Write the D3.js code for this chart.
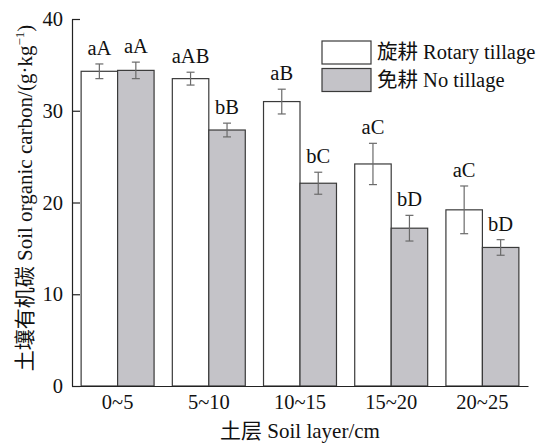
<!DOCTYPE html>
<html>
<head>
<meta charset="utf-8">
<script src="https://cdn.jsdelivr.net/npm/d3@7/dist/d3.min.js"></script>
<style>
  html, body { margin: 0; padding: 0; background: #fff; }
  svg { display: block; }
  text { font-family: "Liberation Serif", "Times New Roman", "Noto Sans CJK SC", serif; fill: #111; }
</style>
</head>
<body>
<svg id="chart" width="549" height="443"></svg>
<script>
// Soil layers (cm) and SOC per tillage treatment (g/kg)
const layers = ["0~5", "5~10", "10~15", "15~20", "20~25"];
const seriesNames = ["旋耕 Rotary tillage", "免耕 No tillage"];
const rotary = [34.3, 33.5, 31.0, 24.2, 19.2];
const rotaryErr = [0.8, 0.7, 1.35, 2.25, 2.6];
const rotaryLabels = ["aA", "aAB", "aB", "aC", "aC"];
const noTill = [34.4, 27.9, 22.1, 17.2, 15.1];
const noTillErr = [0.9, 0.75, 1.2, 1.4, 0.85];
const noTillLabels = ["aA", "bB", "bC", "bD", "bD"];
const yTicks = [0, 10, 20, 30, 40];

const fills = ["#ffffff", "#c4c3c8"];
const series = [
  { values: rotary, err: rotaryErr, labels: rotaryLabels },
  { values: noTill, err: noTillErr, labels: noTillLabels }
];

const FS = 20.5;
const svg = d3.select("#chart");
const margin = { left: 72, right: 21, top: 19, bottom: 57 };
const W = 549, H = 443;

const x = d3.scaleBand().domain(layers)
  .range([margin.left, W - margin.right])
  .paddingInner(0.2).paddingOuter(0.1);
const xs = d3.scaleBand().domain([0, 1]).range([0, x.bandwidth()]);
const y = d3.scaleLinear().domain([0, 40]).range([H - margin.bottom, margin.top]);

// bars
series.forEach((s, si) => {
  const g = svg.append("g");
  g.selectAll("rect").data(layers).join("rect")
    .attr("x", d => x(d) + xs(si))
    .attr("y", (d, i) => y(s.values[i]))
    .attr("width", xs.bandwidth())
    .attr("height", (d, i) => y(0) - y(s.values[i]))
    .attr("fill", fills[si])
    .attr("stroke", "#3a3a3a")
    .attr("stroke-width", 1.2);

  // error bars
  const eb = svg.append("g").attr("stroke", "#6a6a6a").attr("stroke-width", 1.2);
  layers.forEach((d, i) => {
    const cx = x(d) + xs(si) + xs.bandwidth() / 2;
    const hi = y(s.values[i] + s.err[i]);
    const lo = y(s.values[i] - s.err[i]);
    eb.append("line").attr("x1", cx).attr("x2", cx).attr("y1", hi).attr("y2", lo);
    eb.append("line").attr("x1", cx - 4).attr("x2", cx + 4).attr("y1", hi).attr("y2", hi);
    eb.append("line").attr("x1", cx - 4).attr("x2", cx + 4).attr("y1", lo).attr("y2", lo);
  });

  // significance letters
  svg.append("g").selectAll("text").data(layers).join("text")
    .attr("x", d => x(d) + xs(si) + xs.bandwidth() / 2)
    .attr("y", (d, i) => y(s.values[i] + s.err[i]) - 9)
    .attr("text-anchor", "middle")
    .attr("font-size", FS)
    .text((d, i) => s.labels[i]);
});

// y axis (ticks inside)
const yAxis = svg.append("g")
  .attr("transform", `translate(${margin.left},0)`)
  .call(d3.axisLeft(y).tickValues(yTicks).tickSizeInner(-8).tickSizeOuter(0).tickPadding(9));
yAxis.select(".domain").attr("stroke", "#222").attr("stroke-width", 1.2);
yAxis.selectAll(".tick line").attr("stroke", "#222").attr("stroke-width", 1.2);
yAxis.selectAll("text").attr("font-size", FS).attr("fill", "#111");

// x axis (no ticks)
const xAxis = svg.append("g")
  .attr("transform", `translate(0,${y(0)})`)
  .call(d3.axisBottom(x).tickSize(0).tickPadding(8.5));
xAxis.select(".domain").attr("stroke", "#222").attr("stroke-width", 1.2);
xAxis.selectAll("text").attr("font-size", FS).attr("fill", "#111");

// axis titles
svg.append("text")
  .attr("x", (margin.left + W - margin.right) / 2)
  .attr("y", 438)
  .attr("text-anchor", "middle")
  .attr("font-size", 21)
  .text("土层 Soil layer/cm");

const yt = svg.append("text")
  .attr("transform", `translate(32,198) rotate(-90)`)
  .attr("text-anchor", "middle")
  .attr("font-size", 21);
yt.append("tspan").text("土壤有机碳 Soil organic carbon/(g·kg");
yt.append("tspan").attr("font-size", 13).attr("dy", -8).text("−1");
yt.append("tspan").attr("dy", 8).text(")");

// legend
const lg = svg.append("g").attr("transform", "translate(322,41)");
seriesNames.forEach((name, i) => {
  lg.append("rect")
    .attr("x", 0).attr("y", i * 27.5)
    .attr("width", 49).attr("height", 23)
    .attr("fill", fills[i]).attr("stroke", "#3a3a3a").attr("stroke-width", 1.2);
  lg.append("text")
    .attr("x", 55).attr("y", i * 27.5 + 18)
    .attr("font-size", FS)
    .text(name);
});
</script>
</body>
</html>
